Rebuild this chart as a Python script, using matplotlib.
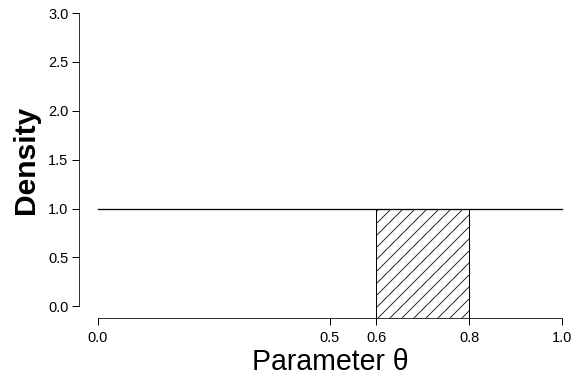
import matplotlib as mpl
import matplotlib.pyplot as plt

# Data
x_line = [0.0, 1.0]
density = [1.0, 1.0]
shade_x = [0.6, 0.8]
shade_top = [1.0, 1.0]
x_ticks = [0.0, 0.5, 0.6, 0.8, 1.0]
y_ticks = [0.0, 0.5, 1.0, 1.5, 2.0, 2.5, 3.0]


def rc_setup():
    """Generalized plot attributes, R base-graphics look"""
    mpl.rcParams["font.family"] = ["Liberation Sans", "DejaVu Sans"]
    mpl.rcParams["hatch.linewidth"] = 0.8
    mpl.rcParams["xtick.major.size"] = 7
    mpl.rcParams["ytick.major.size"] = 7
    mpl.rcParams["xtick.major.width"] = 1.0
    mpl.rcParams["ytick.major.width"] = 1.0
    mpl.rcParams["xtick.labelsize"] = 14.5
    mpl.rcParams["ytick.labelsize"] = 14.5


rc_setup()
dpi = 72
fig = plt.figure(figsize=(573 / dpi, 377 / dpi), dpi=dpi)
ax = fig.add_axes([79.4 / 573, 59 / 377, 501.2 / 573, 316.7 / 377])
ax.set_xlim(-0.04, 1.04)
ax.set_ylim(-0.12, 3.12)

# Uniform density line and hatched interval
ax.plot(x_line, density, color="black", lw=1.3, zorder=3)
ax.fill_between(shade_x, -1, shade_top, facecolor="none",
                edgecolor="black", hatch="//", lw=1.0, zorder=2)

# R-style detached axes
for side in ["top", "right"]:
    ax.spines[side].set_visible(False)
ax.spines["left"].set_bounds(y_ticks[0], y_ticks[-1])
ax.spines["bottom"].set_bounds(x_ticks[0], x_ticks[-1])
ax.set_xticks(x_ticks)
ax.set_xticklabels([f"{t:.1f}" for t in x_ticks])
ax.set_yticks(y_ticks)
ax.set_yticklabels([f"{t:.1f}" for t in y_ticks])
ax.tick_params(axis="x", pad=6)
ax.tick_params(axis="y", pad=4)

ax.set_xlabel("Parameter θ", fontsize=28.5, labelpad=3)
ax.set_ylabel("Density", fontsize=30, fontweight="bold", labelpad=8)

fig.savefig("out.png", dpi=dpi)
